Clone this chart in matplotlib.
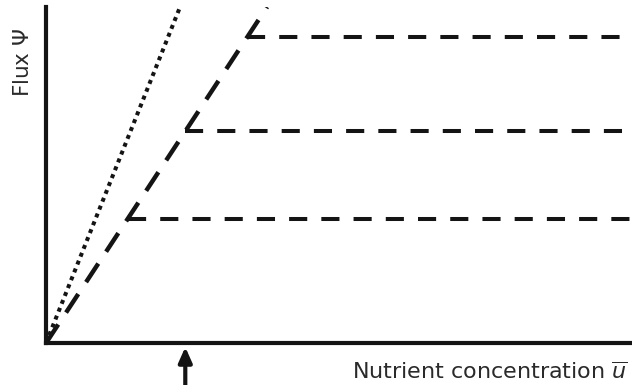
import numpy as np
import matplotlib
matplotlib.use("Agg")
import matplotlib.pyplot as plt

# uptake curves: linear regime then saturation at three capacities
slope_free = 4.37          # dotted line, unlimited uptake
slope_dashed = 2.65        # dashed line, initial slope
capacities = [3.7, 6.3, 9.1]
u_max = 10.0
psi_max = 10.0
u_marker = capacities[1] / slope_dashed

ink = "#141414"
lw = 2.9

fig = plt.figure(figsize=(6.32, 3.85), dpi=100)
ax = fig.add_axes([0.0728, 0.109, 0.927, 0.873])

# dotted reference line
u = np.array([0, psi_max / slope_free])
ax.plot(u, slope_free * u, color=ink, lw=lw, linestyle=(0, (1, 1.1)),
        dash_capstyle="butt")

# dashed linear part
u = np.array([0, psi_max / slope_dashed])
ax.plot(u, slope_dashed * u, color=ink, lw=lw + 0.3,
        linestyle=(0, (5.0, 3.2)), dash_capstyle="butt")

# saturation plateaus
for c in capacities:
    ax.plot([c / slope_dashed, u_max], [c, c], color=ink, lw=lw,
            linestyle=(0, (4.5, 3.5)), dash_capstyle="butt")

ax.set_xlim(0, u_max)
ax.set_ylim(0, psi_max)
for s in ["top", "right"]:
    ax.spines[s].set_visible(False)
for s in ["left", "bottom"]:
    ax.spines[s].set_linewidth(3.0)
    ax.spines[s].set_color(ink)
ax.set_xticks([])
ax.set_yticks([])

fig.text(23 / 632, 1 - 62 / 385, r"Flux $\Psi$", rotation=90, ha="center",
         va="center", fontsize=15.5, color="#2a2a2a")
fig.text(628 / 632, 1 - 383 / 385, r"Nutrient concentration $\overline{u}$",
         ha="right", va="bottom", fontsize=16, color="#2a2a2a")

# arrow marking the middle saturation point
ax.annotate("", xy=(u_marker, -0.012), xytext=(u_marker, -0.135),
            xycoords=ax.get_xaxis_transform(),
            textcoords=ax.get_xaxis_transform(),
            arrowprops=dict(arrowstyle="-|>,head_length=0.9,head_width=0.4",
                            lw=3, color=ink, shrinkA=0, shrinkB=0),
            annotation_clip=False)

fig.savefig("out.png", dpi=100)
